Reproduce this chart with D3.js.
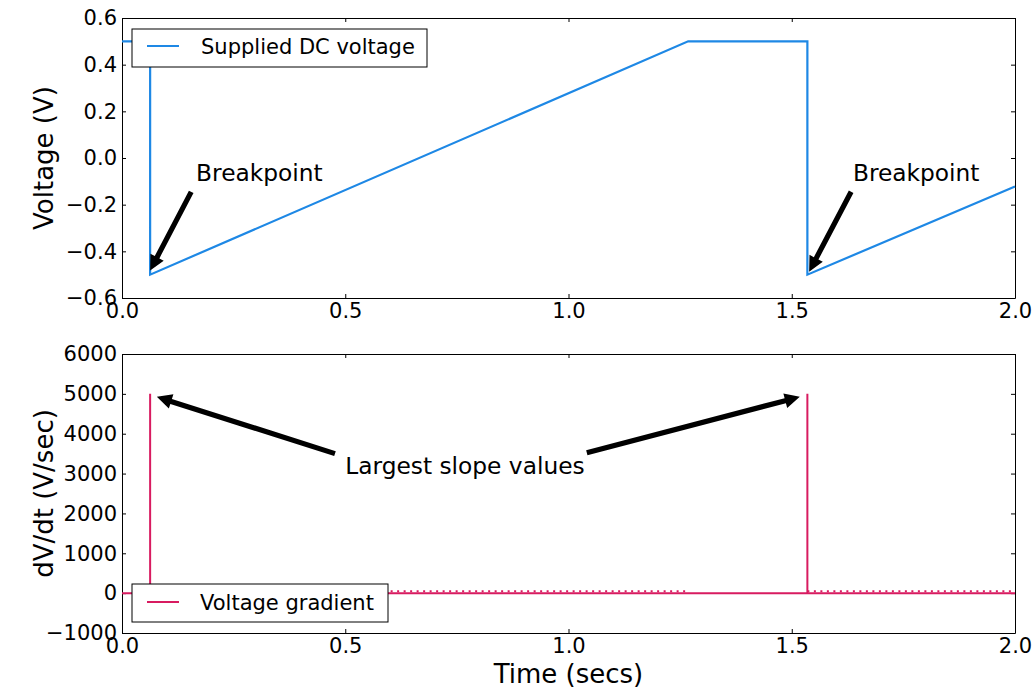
<!DOCTYPE html>
<html>
<head>
<meta charset="utf-8">
<script src="https://cdn.jsdelivr.net/npm/d3@7"></script>
<style>
  body { margin: 0; background: #fff; }
  text { font-family: "DejaVu Sans", sans-serif; fill: #000; }
</style>
</head>
<body>
<div id="chart"></div>
<script>
// supplied voltage, corner points of the trace (secs, V)
var timeV   = [0, 0.063, 0.063, 1.268, 1.535, 1.535, 2.0];
var voltage = [0.5, 0.5, -0.5, 0.5, 0.5, -0.5, -0.122];

// gradient trace (secs, V/sec)
var timeG    = [0, 0.063, 0.063, 0.063, 1.535, 1.535, 1.535, 2.0];
var gradient = [0, 0, 5000, 0, 0, 5000, 0, 0];

// tick values
var voltTicks = [-0.6, -0.4, -0.2, 0.0, 0.2, 0.4, 0.6];
var gradTicks = [-1000, 0, 1000, 2000, 3000, 4000, 5000, 6000];
var timeTicks = [0.0, 0.5, 1.0, 1.5, 2.0];

// annotations: text anchor and arrow tail / tip, in data units
var breakText  = ["Breakpoint", "Breakpoint"];
var breakTextT = [0.166, 1.637];
var breakTextV = [-0.1, -0.1];
var breakTail  = [[0.155, -0.145], [1.633, -0.145]];
var breakTip   = [[0.063, -0.482], [1.539, -0.487]];

var slopeText  = "Largest slope values";
var slopeTextT = 0.5;
var slopeTextV = 3000;
var slopeTail  = [[0.477, 3500], [1.041, 3525]];
var slopeTip   = [[0.078, 4925], [1.518, 4925]];

(function() {
var W = 1035, H = 692;
var left = 122, width = 893;
var blue = "#1E88E5", pink = "#D81B60";

var svg = d3.select("#chart").append("svg")
    .attr("width", W)
    .attr("height", H);

var x = d3.scaleLinear().domain([0, 2]).range([0, width]);

// polygon arrow from tail to tip, in pixels
function arrowPath(x1, y1, x2, y2) {
  var dx = x2 - x1, dy = y2 - y1, len = Math.sqrt(dx * dx + dy * dy);
  var ux = dx / len, uy = dy / len, nx = -uy, ny = ux;
  var sw = 2.6, hw = 7.5, hl = 15;
  var bx = x2 - ux * hl, by = y2 - uy * hl;
  var pts = [
    [x1 + nx * sw, y1 + ny * sw],
    [bx + nx * sw, by + ny * sw],
    [bx + nx * hw, by + ny * hw],
    [x2, y2],
    [bx - nx * hw, by - ny * hw],
    [bx - nx * sw, by - ny * sw],
    [x1 - nx * sw, y1 - ny * sw]
  ];
  return "M" + pts.map(function(p) { return p[0] + "," + p[1]; }).join("L") + "Z";
}

function panel(top, height, y, yTicks, yFmt, yLabel) {
  var g = svg.append("g").attr("transform", "translate(" + left + "," + top + ")");

  // axes, ticks pointing inward on all sides
  var gx = g.append("g").attr("transform", "translate(0," + height + ")")
      .call(d3.axisBottom(x).tickValues(timeTicks).tickFormat(d3.format(".1f"))
        .tickSizeInner(-4).tickSizeOuter(0).tickPadding(5));
  var gxt = g.append("g")
      .call(d3.axisTop(x).tickValues(timeTicks).tickFormat("")
        .tickSizeInner(-4).tickSizeOuter(0));
  var gy = g.append("g")
      .call(d3.axisLeft(y).tickValues(yTicks).tickFormat(yFmt)
        .tickSizeInner(-4).tickSizeOuter(0).tickPadding(5));
  var gyr = g.append("g").attr("transform", "translate(" + width + ",0)")
      .call(d3.axisRight(y).tickValues(yTicks).tickFormat("")
        .tickSizeInner(-4).tickSizeOuter(0));

  [gx, gxt, gy, gyr].forEach(function(a) {
    a.select(".domain").attr("stroke", "#000");
    a.selectAll(".tick line").attr("stroke", "#000");
    a.selectAll(".tick text").style("font-size", "21px").attr("fill", "#000");
  });
  gx.selectAll(".tick text").attr("dy", "0.71em");

  svg.append("text")
      .attr("transform", "translate(53," + (top + height / 2) + ") rotate(-90)")
      .attr("text-anchor", "middle")
      .style("font-size", "26px")
      .text(yLabel);

  return g;
}

// ---- top panel: supplied voltage
var yV = d3.scaleLinear().domain([-0.6, 0.6]).range([280, 0]);
var g1 = panel(18, 280, yV, voltTicks, d3.format(".1f"), "Voltage (V)");

var lineV = d3.line()
    .x(function(d, i) { return x(timeV[i]); })
    .y(function(d) { return yV(d); });

g1.append("path")
    .datum(voltage)
    .attr("fill", "none")
    .attr("stroke", blue)
    .attr("stroke-width", 2.2)
    .attr("d", lineV);

// legend
var l1 = g1.append("g").attr("transform", "translate(10,11)");
l1.append("rect").attr("width", 295).attr("height", 38)
    .attr("fill", "#fff").attr("stroke", "#000");
l1.append("line").attr("x1", 15).attr("x2", 47).attr("y1", 17).attr("y2", 17)
    .attr("stroke", blue).attr("stroke-width", 2);
l1.append("text").attr("x", 69).attr("y", 24.5)
    .style("font-size", "21px").text("Supplied DC voltage");

breakText.forEach(function(t, i) {
  g1.append("text")
      .attr("x", x(breakTextT[i]))
      .attr("y", yV(breakTextV[i]))
      .style("font-size", "23.3px")
      .text(t);
  g1.append("path")
      .attr("d", arrowPath(x(breakTail[i][0]), yV(breakTail[i][1]),
                           x(breakTip[i][0]), yV(breakTip[i][1])))
      .attr("fill", "#000");
});

// ---- bottom panel: gradient
var yG = d3.scaleLinear().domain([-1000, 6000]).range([279, 0]);
var g2 = panel(354, 279, yG, gradTicks, d3.format("d"), "dV/dt (V/sec)");

var lineG = d3.line()
    .x(function(d, i) { return x(timeG[i]); })
    .y(function(d) { return yG(d); });

g2.append("path")
    .datum(gradient)
    .attr("fill", "none")
    .attr("stroke", pink)
    .attr("stroke-width", 2)
    .attr("d", lineG);

// small ripple on the ramps (voltage steps), drawn where voltage rises slowly
for (var i = 0; i < timeV.length - 1; i++) {
  if (timeV[i + 1] > timeV[i] && voltage[i + 1] > voltage[i]) {
    g2.append("line")
        .attr("x1", x(timeV[i])).attr("x2", x(timeV[i + 1]))
        .attr("y1", yG(0) - 1.8).attr("y2", yG(0) - 1.8)
        .attr("stroke", pink).attr("stroke-width", 2)
        .attr("stroke-dasharray", "2,4.5");
  }
}

var l2 = g2.append("g").attr("transform", "translate(10,230)");
l2.append("rect").attr("width", 256).attr("height", 38)
    .attr("fill", "#fff").attr("stroke", "#000");
l2.append("line").attr("x1", 15).attr("x2", 47).attr("y1", 18).attr("y2", 18)
    .attr("stroke", pink).attr("stroke-width", 2);
l2.append("text").attr("x", 68).attr("y", 25.5)
    .style("font-size", "21px").text("Voltage gradient");

g2.append("text")
    .attr("x", x(slopeTextT))
    .attr("y", yG(slopeTextV))
    .style("font-size", "23.3px")
    .text(slopeText);
slopeTail.forEach(function(p, i) {
  g2.append("path")
      .attr("d", arrowPath(x(p[0]), yG(p[1]), x(slopeTip[i][0]), yG(slopeTip[i][1])))
      .attr("fill", "#000");
});

svg.append("text")
    .attr("x", left + width / 2)
    .attr("y", 683)
    .attr("text-anchor", "middle")
    .style("font-size", "26px")
    .text("Time (secs)");
})();
</script>
</body>
</html>
